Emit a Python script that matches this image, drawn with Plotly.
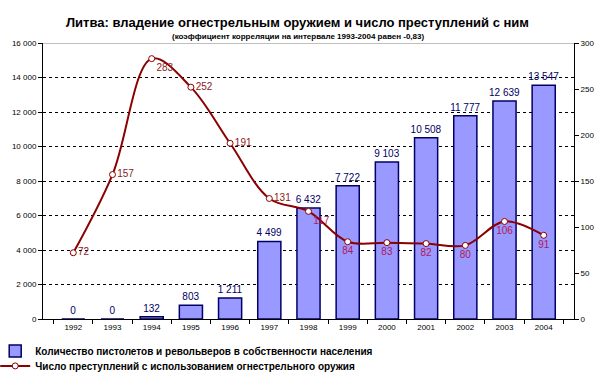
import plotly.graph_objects as go

years = ["1992", "1993", "1994", "1995", "1996", "1997", "1998", "1999", "2000", "2001", "2002", "2003", "2004"]
guns = [0, 0, 132, 803, 1211, 4499, 6432, 7722, 9103, 10508, 11777, 12639, 13547]
crimes = [72, 157, 283, 252, 191, 131, 117, 84, 83, 82, 80, 106, 91]

bar_name = "Количество пистолетов и револьверов в собственности населения"
line_name = "Число преступлений с использованием огнестрельного оружия"
title = "Литва: владение огнестрельным оружием и число преступлений с ним"
subtitle = "(коэффициент корреляции на интервале 1993-2004 равен -0,83)"

FONT = "Liberation Sans, Arial, sans-serif"

def fmt(v):
    return f"{v:,}".replace(",", " ")

line_pos = ["middle right", "middle right", "bottom right", "middle right", "middle right",
            "middle right", "bottom right", "bottom center", "bottom center", "bottom center",
            "bottom center", "bottom center", "bottom center"]
line_txt_col = ["#8B1A1A"] * 6 + ["#B0185A"] * 7

fig = go.Figure()
fig.add_trace(go.Bar(
    x=years, y=guns, name=bar_name,
    marker=dict(color="#9999FF", line=dict(color="#000066", width=1.5)),
    text=[fmt(v) for v in guns], textposition="outside", constraintext="none",
    textfont=dict(family=FONT, size=10, color="#000066"),
    cliponaxis=False, legend="legend",
))
fig.add_trace(go.Scatter(
    x=years, y=crimes, name=line_name, yaxis="y2",
    mode="lines+markers+text",
    line=dict(color="#8B0000", width=2, shape="spline", smoothing=1),
    marker=dict(symbol="circle", size=6, color="white", line=dict(color="#8B0000", width=1)),
    text=[str(v) for v in crimes], textposition=line_pos,
    textfont=dict(family=FONT, size=10, color=line_txt_col),
    cliponaxis=False, legend="legend2",
))

fig.update_layout(
    width=604, height=376,
    margin=dict(l=43, r=30, t=43, b=57, autoexpand=False),
    paper_bgcolor="white", plot_bgcolor="white",
    font=dict(family=FONT, size=8, color="black"),
    separators=", ",
    bargap=0.41,
    showlegend=True,
    xaxis=dict(type="category", tickson="boundaries", ticks="outside", ticklen=4,
               tickcolor="black", showline=True, linecolor="black", linewidth=1,
               showgrid=False, tickfont=dict(size=8, family=FONT)),
    yaxis=dict(range=[0, 16000], dtick=2000, tickformat=",d", ticks="outside", ticklen=4,
               tickcolor="black", showline=True, linecolor="black", linewidth=1,
               showgrid=True, gridcolor="black", griddash="dot", gridwidth=1,
               zeroline=False, tickfont=dict(size=8, family=FONT)),
    yaxis2=dict(range=[0, 300], dtick=50, overlaying="y", side="right", ticks="outside",
                ticklen=4, tickcolor="black", showline=True, linecolor="black", linewidth=1,
                showgrid=False, zeroline=False, tickfont=dict(size=8, family=FONT)),
    legend=dict(x=-0.09, y=-0.116, xanchor="left", yanchor="middle",
                font=dict(size=10, family=FONT, color="black", weight="bold"),
                bgcolor="rgba(0,0,0,0)"),
    legend2=dict(x=-0.09, y=-0.170, xanchor="left", yanchor="middle",
                 font=dict(size=10, family=FONT, color="black", weight="bold"),
                 bgcolor="rgba(0,0,0,0)"),
    shapes=[dict(type="line", xref="paper", yref="y", x0=0, x1=1, y0=16000, y1=16000,
                 line=dict(color="#808080", width=1))],
    annotations=[
        dict(text=title, xref="paper", yref="paper", x=0.48, y=1.076, xanchor="center",
             yanchor="middle", showarrow=False,
             font=dict(size=13, family=FONT, color="black", weight="bold")),
        dict(text=subtitle, xref="paper", yref="paper", x=0.48, y=1.025, xanchor="center",
             yanchor="middle", showarrow=False,
             font=dict(size=8, family=FONT, color="black", weight="bold")),
    ],
)

fig.write_html("out.html", post_script="document.body.style.margin='0';",
               config={"displayModeBar": False})
